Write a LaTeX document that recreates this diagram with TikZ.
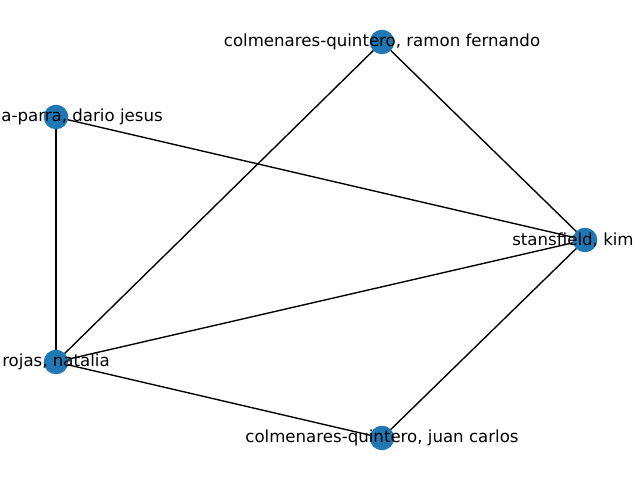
\documentclass[tikz,border=0pt]{standalone}
\usepackage{fontspec}
\setmainfont{DejaVu Sans}
\definecolor{nodeblue}{HTML}{1F77B4}
\begin{document}
\begin{tikzpicture}[
            x=0.01in, y=-0.01in,
            person/.style={
                circle, fill=nodeblue, draw=none, minimum size=0.245in, inner sep=0pt
            },
            whoname/.style={
                font=\fontsize{12}{14}\selectfont, inner sep=0pt, anchor=center
            },
            tie/.style={line width=1pt, black}
        ]

        \useasboundingbox (0,0) rectangle (640,480);
        \clip (0,0) rectangle (640,480);

        % people
        \coordinate (ramon) at (382,42);
        \coordinate (dario) at (56,117);
        \coordinate (kim) at (585,240);
        \coordinate (natalia) at (56,362);
        \coordinate (juan) at (382,438);

        \draw[tie] (ramon) -- (kim);
        \draw[tie] (ramon) -- (natalia);
        \draw[tie] (dario) -- (kim);
        \draw[tie] (dario) -- (natalia);
        \draw[tie] (natalia) -- (kim);
        \draw[tie] (natalia) -- (juan);
        \draw[tie] (juan) -- (kim);

        \foreach \p in {ramon, dario, kim, natalia, juan}
            \node[person] (\p dot) at (\p) {};

        \node[whoname] (ramonname) at (ramon) {colmenares-quintero, ramon fernando};
        \node[whoname] (darioname) at (dario) {medina-parra, dario jesus};
        \node[whoname, xshift=-0.12in] (kimname) at (kim) {stansfield, kim};
        \node[whoname] (natalianame) at (natalia) {rojas, natalia};
        \node[whoname] (juanname) at (juan) {colmenares-quintero, juan carlos};

    \end{tikzpicture}
\end{document}
